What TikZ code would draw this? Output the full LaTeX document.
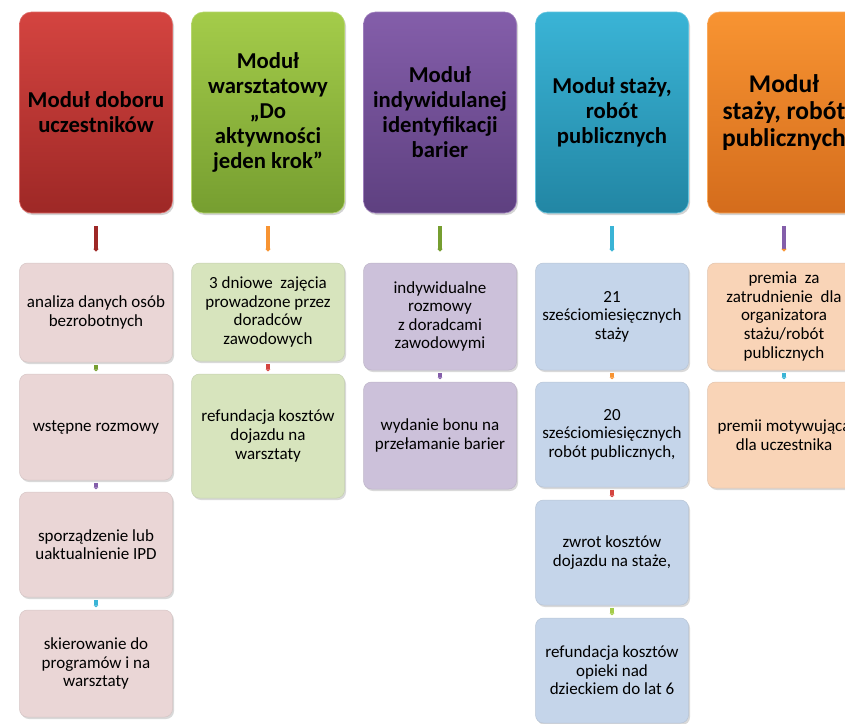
\documentclass[tikz,border=0pt]{standalone}
\usepackage{fontspec}
\setmainfont{Carlito}
\usetikzlibrary{arrows.meta,shadows}

\definecolor{redT}{RGB}{212,68,64}
\definecolor{redB}{RGB}{158,40,38}
\definecolor{greenT}{RGB}{164,204,74}
\definecolor{greenB}{RGB}{118,158,48}
\definecolor{purpleT}{RGB}{132,94,170}
\definecolor{purpleB}{RGB}{94,64,128}
\definecolor{blueT}{RGB}{58,180,214}
\definecolor{blueB}{RGB}{34,134,164}
\definecolor{orangeT}{RGB}{248,148,50}
\definecolor{orangeB}{RGB}{212,108,28}
\definecolor{pinkF}{RGB}{234,214,214}
\definecolor{greenF}{RGB}{215,228,189}
\definecolor{purpleF}{RGB}{204,193,218}
\definecolor{blueF}{RGB}{197,213,234}
\definecolor{orangeF}{RGB}{249,212,183}

\tikzset{
  headbox/.style 2 args={rounded corners=12pt, minimum width=153pt, minimum height=201pt,
    inner sep=0pt, align=center, top color=#1, bottom color=#2, draw=#1!80!white,
    line width=0.6pt, drop shadow={shadow xshift=1.5pt, shadow yshift=-2pt, opacity=0.35},
    font=\fontsize{22.7}{25}\selectfont\bfseries},
  itembox/.style={rounded corners=8pt, minimum width=153pt, inner sep=0pt, align=center,
    fill=#1, draw=#1!80!gray, line width=0.5pt,
    drop shadow={shadow xshift=1.5pt, shadow yshift=-2pt, opacity=0.3},
    font=\fontsize{17}{18.6}\selectfont},
  headarrow/.style={draw=#1, line width=3.5pt, shorten <=13pt, shorten >=11pt,
    -{Triangle[length=3pt,width=5.5pt]}},
  itemarrow/.style={draw=#1, line width=3.5pt, shorten <=3pt, shorten >=2.5pt,
    -{Triangle[length=2pt,width=5pt]}}
}

\begin{document}
\begin{tikzpicture}[x=1pt,y=-1pt]
  \useasboundingbox (0,0) rectangle (845,723);
  \clip (0,0) rectangle (845,723);

  % header boxes
  \node[headbox={redT}{redB}] (h1) at (96,112.5) {Moduł doboru\\uczestników};
  \node[headbox={greenT}{greenB}] (h2) at (268,112.5) {Moduł\\warsztatowy\\„Do\\aktywności\\jeden krok”};
  \node[headbox={purpleT}{purpleB}] (h3) at (440,112.5) {Moduł\\indywidulanej\\identyfikacji\\barier};
  \node[headbox={blueT}{blueB}] (h4) at (612,112.5) {Moduł staży,\\robót\\publicznych};
  \node[headbox={orangeT}{orangeB}, font=\fontsize{25.5}{27}\selectfont\bfseries] (h5) at (784,112.5) {Moduł\\staży, robót\\publicznych};

  % first column
  \node[itembox=pinkF, minimum height=99pt] (b11) at (96,312.5) {analiza danych osób\\bezrobotnych};
  \node[itembox=pinkF, minimum height=106pt] (b12) at (96,427) {wstępne rozmowy};
  \node[itembox=pinkF, minimum height=105pt] (b13) at (96,544.5) {sporządzenie lub\\uaktualnienie IPD};
  \node[itembox=pinkF, minimum height=107pt] (b14) at (96,663.5) {skierowanie do\\programów i na\\warsztaty};

  % second column
  \node[itembox=greenF, minimum height=98pt] (b21) at (268,312) {3 dniowe~ zajęcia\\prowadzone przez\\doradców\\zawodowych};
  \node[itembox=greenF, minimum height=124pt] (b22) at (268,436) {refundacja kosztów\\dojazdu na\\warsztaty};

  % third column
  \node[itembox=purpleF, minimum height=107pt] (b31) at (440,316.5) {indywidualne\\rozmowy\\z doradcami\\zawodowymi};
  \node[itembox=purpleF, minimum height=107pt] (b32) at (440,435.5) {wydanie bonu na\\przełamanie barier};

  % fourth column
  \node[itembox=blueF, minimum height=107pt] (b41) at (612,316.5) {21\\sześciomiesięcznych\\staży};
  \node[itembox=blueF, minimum height=105pt] (b42) at (612,434.5) {20\\sześciomiesięcznych\\robót publicznych,};
  \node[itembox=blueF, minimum height=105pt] (b43) at (612,552.5) {zwrot kosztów\\dojazdu na staże,};
  \node[itembox=blueF, minimum height=105pt] (b44) at (612,670.5) {refundacja kosztów\\opieki nad\\dzieckiem do lat 6};

  % fifth column
  \node[itembox=orangeF, minimum height=107pt] (b51) at (784,316.5) {premia~ za\\zatrudnienie~ dla\\organizatora\\stażu/robót\\publicznych};
  \node[itembox=orangeF, minimum height=106pt] (b52) at (784,435) {premii motywująca\\dla uczestnika};

  % arrows under the headers
  \draw[headarrow=redB] (h1) -- (b11);
  \draw[headarrow=orangeT] (h2) -- (b21);
  \draw[headarrow=greenB] (h3) -- (b31);
  \draw[headarrow=blueT] (h4) -- (b41);
  \draw[headarrow=purpleT, -{Triangle[length=3pt,width=5.5pt,color=orangeT]}] (h5) -- (b51);

  % small arrows between the boxes
  \draw[itemarrow=greenB] (b11) -- (b12);
  \draw[itemarrow=purpleT] (b12) -- (b13);
  \draw[itemarrow=blueT] (b13) -- (b14);
  \draw[itemarrow=redT] (b21) -- (b22);
  \draw[itemarrow=purpleT] (b31) -- (b32);
  \draw[itemarrow=orangeT] (b41) -- (b42);
  \draw[itemarrow=redT] (b42) -- (b43);
  \draw[itemarrow=greenT] (b43) -- (b44);
  \draw[itemarrow=blueT] (b51) -- (b52);
\end{tikzpicture}
\end{document}
